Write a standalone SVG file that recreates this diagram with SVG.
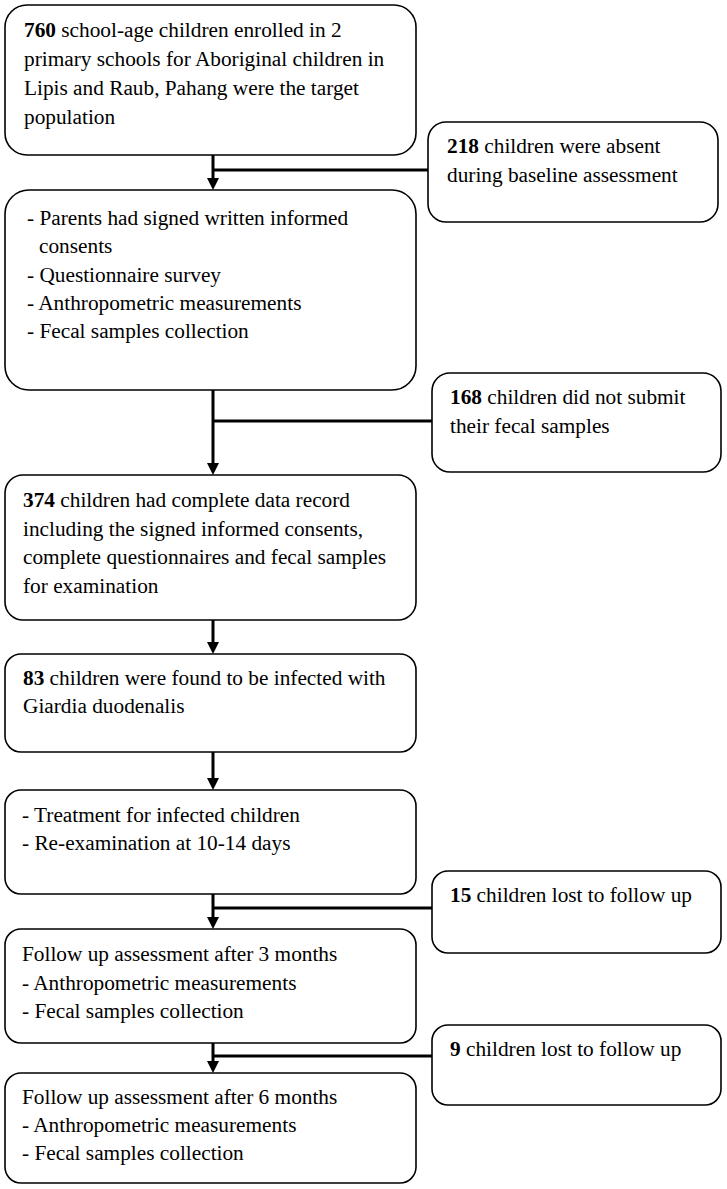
<svg xmlns="http://www.w3.org/2000/svg" width="727" height="1189" viewBox="0 0 727 1189">
<style>
.box{fill:#fff;stroke:#000;stroke-width:1.6}
text{font-family:"Liberation Serif","Times New Roman",serif;font-size:21.3px;fill:#000}
.b{font-weight:bold}
.ln{stroke:#000;stroke-width:3;fill:none}
</style>
<defs>
<marker id="ah" markerWidth="4" markerHeight="4" refX="2" refY="2" orient="auto" markerUnits="strokeWidth">
<path d="M0,0 L4,2 L0,4 Z" fill="#000"/>
</marker>
</defs>
<rect width="727" height="1189" fill="#fff"/>
<g id="connectors">
<line class="ln" x1="213" y1="155" x2="213" y2="184" marker-end="url(#ah)"/>
<line class="ln" x1="213" y1="170" x2="428" y2="170"/>
<line class="ln" x1="213" y1="390" x2="213" y2="469" marker-end="url(#ah)"/>
<line class="ln" x1="213" y1="421" x2="432" y2="421"/>
<line class="ln" x1="213" y1="620" x2="213" y2="648" marker-end="url(#ah)"/>
<line class="ln" x1="213" y1="752" x2="213" y2="784" marker-end="url(#ah)"/>
<line class="ln" x1="213" y1="894" x2="213" y2="923" marker-end="url(#ah)"/>
<line class="ln" x1="213" y1="908" x2="432" y2="908"/>
<line class="ln" x1="213" y1="1043" x2="213" y2="1067" marker-end="url(#ah)"/>
<line class="ln" x1="213" y1="1056" x2="432" y2="1056"/>
</g>
<g id="n1">
<rect class="box" x="5" y="5" width="411" height="150" rx="22"/>
<text x="24" y="37"><tspan class="b">760</tspan> school-age children enrolled in 2</text>
<text x="24" y="66">primary schools for Aboriginal children in</text>
<text x="24" y="95">Lipis and Raub, Pahang were the target</text>
<text x="24" y="124">population</text>
</g>
<g id="s1">
<rect class="box" x="428" y="122" width="290" height="100" rx="18"/>
<text x="447" y="153"><tspan class="b">218</tspan> children were absent</text>
<text x="447" y="182">during baseline assessment</text>
</g>
<g id="n2">
<rect class="box" x="5" y="190" width="411" height="200" rx="24"/>
<text x="27" y="225">- Parents had signed written informed</text>
<text x="39" y="253">consents</text>
<text x="27" y="282">- Questionnaire survey</text>
<text x="27" y="310">- Anthropometric measurements</text>
<text x="27" y="338">- Fecal samples collection</text>
</g>
<g id="s2">
<rect class="box" x="432" y="373" width="289" height="99" rx="18"/>
<text x="450" y="404"><tspan class="b">168</tspan> children did not submit</text>
<text x="450" y="433">their fecal samples</text>
</g>
<g id="n3">
<rect class="box" x="5" y="475" width="411" height="145" rx="18"/>
<text x="23" y="507"><tspan class="b">374</tspan> children had complete data record</text>
<text x="23" y="536">including the signed informed consents,</text>
<text x="23" y="564">complete questionnaires and fecal samples</text>
<text x="23" y="593">for examination</text>
</g>
<g id="n4">
<rect class="box" x="5" y="654" width="411" height="98" rx="16"/>
<text x="23" y="685"><tspan class="b">83</tspan> children were found to be infected with</text>
<text x="23" y="713">Giardia duodenalis</text>
</g>
<g id="n5">
<rect class="box" x="5" y="790" width="411" height="104" rx="16"/>
<text x="22" y="822">- Treatment for infected children</text>
<text x="22" y="850">- Re-examination at 10-14 days</text>
</g>
<g id="s3">
<rect class="box" x="432" y="871" width="289" height="82" rx="16"/>
<text x="450" y="902"><tspan class="b">15</tspan> children lost to follow up</text>
</g>
<g id="n6">
<rect class="box" x="5" y="929" width="411" height="114" rx="16"/>
<text x="22" y="961">Follow up assessment after 3 months</text>
<text x="22" y="990">- Anthropometric measurements</text>
<text x="22" y="1018">- Fecal samples collection</text>
</g>
<g id="s4">
<rect class="box" x="432" y="1025" width="289" height="80" rx="16"/>
<text x="450" y="1056"><tspan class="b">9</tspan> children lost to follow up</text>
</g>
<g id="n7">
<rect class="box" x="5" y="1073" width="411" height="110" rx="16"/>
<text x="22" y="1104">Follow up assessment after 6 months</text>
<text x="22" y="1132">- Anthropometric measurements</text>
<text x="22" y="1160">- Fecal samples collection</text>
</g>
</svg>
